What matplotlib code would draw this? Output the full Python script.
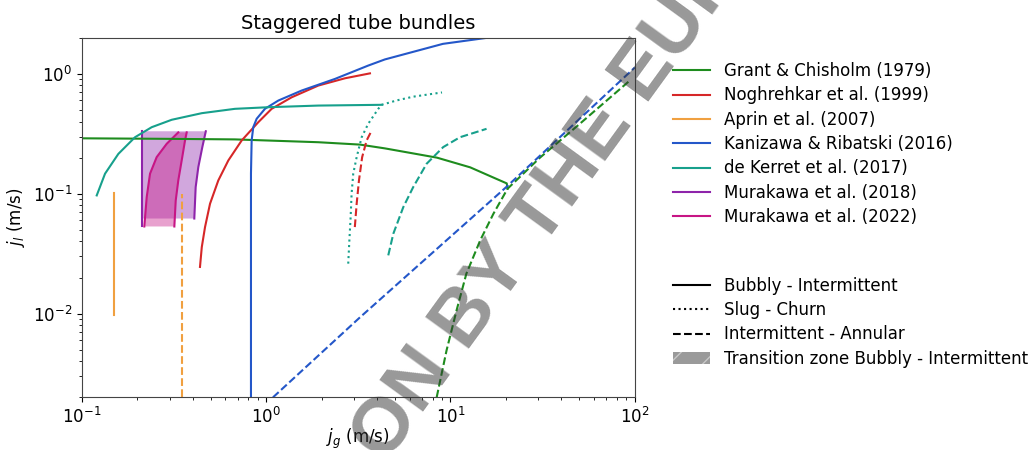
import numpy as np
import matplotlib
matplotlib.use('Agg')
import matplotlib.pyplot as plt
from matplotlib.lines import Line2D
from matplotlib.patches import Patch

# values, j_g and j_l in m/s
# Grant & Chisholm (1979)
grant_bi_x = [0.1, 0.3, 0.678, 1.92, 3.23, 4.41, 8.45, 12.8, 17.0, 20.2, 20.4]
grant_bi_y = [0.29, 0.287, 0.284, 0.269, 0.257, 0.239, 0.2, 0.166, 0.137, 0.122, 0.11]
grant_ia_x = [8.42, 9.53, 10.8, 12.2, 14.5, 17.1, 20.4, 30.6, 50.0, 94.0]
grant_ia_y = [0.002, 0.00494, 0.01065, 0.0215, 0.0408, 0.068, 0.11, 0.2, 0.38, 0.88]

# Noghrehkar et al. (1999)
nogh_bi_x = [0.438, 0.448, 0.4665, 0.4965, 0.5505, 0.624, 0.737, 0.907, 1.072, 1.377, 1.92, 2.68, 3.66]
nogh_bi_y = [0.0245, 0.0359, 0.0527, 0.0825, 0.129, 0.1895, 0.278, 0.395, 0.511, 0.638, 0.799, 0.919, 1.01]
nogh_ia_x = [3.03, 3.10, 3.19, 3.32, 3.51, 3.74]
nogh_ia_y = [0.0527, 0.0825, 0.129, 0.202, 0.278, 0.337]

# Aprin et al. (2007)
aprin_bi_x = [0.15, 0.15]
aprin_bi_y = [0.0098, 0.101]
aprin_ia_x = [0.348, 0.348]
aprin_ia_y = [0.002, 0.0988]

# Kanizawa & Ribatski (2016)
kani_bi_x = [0.828, 0.828, 0.835, 0.852, 0.889, 0.986, 1.165, 1.56, 2.365, 3.58, 4.41, 9.1, 15.8]
kani_bi_y = [0.002, 0.147, 0.278, 0.359, 0.422, 0.511, 0.599, 0.726, 0.908, 1.173, 1.32, 1.78, 2.0]
kani_ia_x = [1.09, 3.23, 20.0, 100.0]
kani_ia_y = [0.002, 0.0093, 0.113, 1.13]

# de Kerret et al. (2017)
kerret_bi_x = [0.1206, 0.1338, 0.158, 0.1945, 0.2396, 0.3076, 0.448, 0.678, 1.028, 1.92, 4.24]
kerret_bi_y = [0.0968, 0.147, 0.215, 0.296, 0.359, 0.414, 0.47, 0.511, 0.527, 0.544, 0.552]
kerret_sc_x = [2.79, 2.83, 2.875, 2.91, 2.97, 3.10, 3.30, 3.58, 4.06, 4.24, 5.1, 6.27, 9.0]
kerret_sc_y = [0.0261, 0.0408, 0.0638, 0.1, 0.147, 0.202, 0.296, 0.383, 0.511, 0.552, 0.6, 0.645, 0.70]
kerret_ia_x = [4.6, 4.9, 5.55, 6.28, 7.43, 9.14, 11.26, 15.7]
kerret_ia_y = [0.0306, 0.0464, 0.0773, 0.1135, 0.178, 0.245, 0.296, 0.348]

# Murakawa et al. (2018), transition zone bounds
mura18_lo_x = [0.2114, 0.2114, 0.2114]
mura18_lo_y = [0.0533, 0.0621, 0.332]
mura18_hi_x = [0.408, 0.415, 0.429, 0.451, 0.471]
mura18_hi_y = [0.0621, 0.1135, 0.167, 0.245, 0.332]

# Murakawa et al. (2022), transition zone bounds
mura22_lo_x = [0.2185, 0.2252, 0.2347, 0.255, 0.289, 0.334]
mura22_lo_y = [0.0533, 0.0939, 0.147, 0.202, 0.261, 0.325]
mura22_hi_x = [0.318, 0.3235, 0.334, 0.351, 0.3633, 0.371]
mura22_hi_y = [0.0533, 0.0878, 0.129, 0.202, 0.278, 0.325]

c_grant = '#1e8c1e'
c_nogh = '#d62728'
c_aprin = '#f0a040'
c_kani = '#2457c9'
c_kerret = '#17a08c'
c_m18 = '#8e24aa'
c_m22 = '#c71585'

plt.rcParams['font.size'] = 12

fig = plt.figure(figsize=(10.28, 4.5), dpi=100)
ax = fig.add_axes([0.0795, 0.117, 0.538, 0.799])

# shaded transition zones
ax.fill(mura18_lo_x[1:] + mura18_hi_x[::-1], mura18_lo_y[1:] + mura18_hi_y[::-1],
        color=c_m18, alpha=0.4, lw=0)
ax.fill(mura22_lo_x + mura22_hi_x[::-1], mura22_lo_y + mura22_hi_y[::-1],
        color=c_m22, alpha=0.4, lw=0)
ax.plot(mura18_lo_x, mura18_lo_y, color=c_m18, lw=1.5)
ax.plot(mura18_hi_x, mura18_hi_y, color=c_m18, lw=1.5)
ax.plot(mura22_lo_x, mura22_lo_y, color=c_m22, lw=1.5)
ax.plot(mura22_hi_x, mura22_hi_y, color=c_m22, lw=1.5)

ax.plot(grant_bi_x, grant_bi_y, '-', color=c_grant, lw=1.5)
ax.plot(grant_ia_x, grant_ia_y, '--', color=c_grant, lw=1.5)
ax.plot(nogh_bi_x, nogh_bi_y, '-', color=c_nogh, lw=1.5)
ax.plot(nogh_ia_x, nogh_ia_y, '--', color=c_nogh, lw=1.5)
ax.plot(aprin_bi_x, aprin_bi_y, '-', color=c_aprin, lw=1.5)
ax.plot(aprin_ia_x, aprin_ia_y, '--', color=c_aprin, lw=1.5)
ax.plot(kani_bi_x, kani_bi_y, '-', color=c_kani, lw=1.5)
ax.plot(kani_ia_x, kani_ia_y, '--', color=c_kani, lw=1.5)
ax.plot(kerret_bi_x, kerret_bi_y, '-', color=c_kerret, lw=1.5)
ax.plot(kerret_sc_x, kerret_sc_y, ':', color=c_kerret, lw=1.5)
ax.plot(kerret_ia_x, kerret_ia_y, '--', color=c_kerret, lw=1.5)

ax.set_xscale('log')
ax.set_yscale('log')
ax.set_xlim(0.1, 100)
ax.set_ylim(0.002, 2)
ax.set_xlabel('$j_g$ (m/s)', labelpad=0)
ax.set_ylabel('$j_l$ (m/s)')
ax.set_title('Staggered tube bundles', fontsize=14)
for s in ax.spines.values():
    s.set_color('#444444')

authors = ['Grant & Chisholm (1979)', 'Noghrehkar et al. (1999)', 'Aprin et al. (2007)',
           'Kanizawa & Ribatski (2016)', 'de Kerret et al. (2017)',
           'Murakawa et al. (2018)', 'Murakawa et al. (2022)']
colors = [c_grant, c_nogh, c_aprin, c_kani, c_kerret, c_m18, c_m22]
h1 = [Line2D([], [], color=c, lw=1.5) for c in colors]
leg1 = fig.legend(h1, authors, loc='upper left', bbox_to_anchor=(0.648, 0.877),
                  frameon=False, borderaxespad=0, handlelength=2.25, labelspacing=0.38)

kinds = ['Bubbly - Intermittent', 'Slug - Churn', 'Intermittent - Annular',
         'Transition zone Bubbly - Intermittent']
h2 = [Line2D([], [], color='k', ls='-', lw=1.5),
      Line2D([], [], color='k', ls=':', lw=1.5),
      Line2D([], [], color='k', ls='--', lw=1.5),
      Patch(facecolor='#9a9a9a', edgecolor='#c8c8c8', hatch='/', lw=0)]
leg2 = fig.legend(h2, kinds, loc='upper left', bbox_to_anchor=(0.648, 0.4),
                  frameon=False, borderaxespad=0, handlelength=2.25, labelspacing=0.38)

# watermark over the figure
fig.text(0.55, 0.596, 'ON BY THE EURO', fontsize=56, fontweight='bold',
         family='Liberation Sans', color='#333333', alpha=0.5, rotation=54,
         ha='center', va='center', rotation_mode='anchor', zorder=10)

fig.savefig('out.png', dpi=100)
